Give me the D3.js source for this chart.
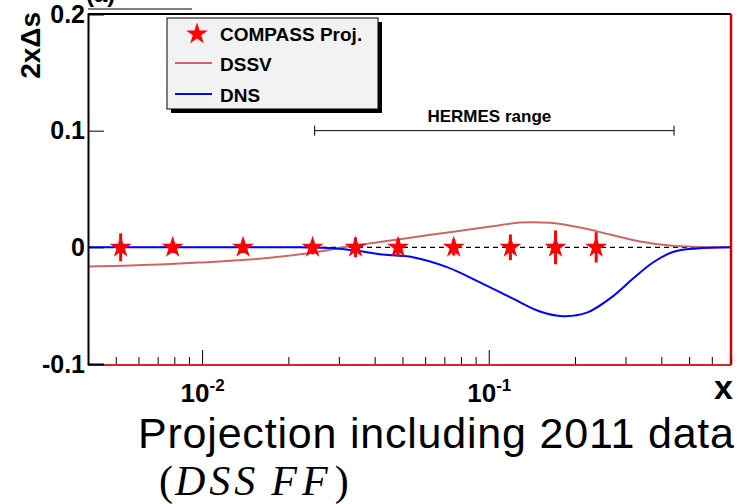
<!DOCTYPE html>
<html>
<head>
<meta charset="utf-8">
<script src="https://cdn.jsdelivr.net/npm/d3@7"></script>
<style>
  html, body { margin: 0; padding: 0; background: #fff; }
  svg { display: block; font-family: "Liberation Sans", Arial, Helvetica, sans-serif; }
</style>
</head>
<body>
<svg id="chart" width="740" height="504"></svg>
<script>
// COMPASS projected points (x, 2xΔs, stat. error)
const pointX   = [0.0052, 0.0079, 0.0139, 0.0243, 0.0343, 0.0483, 0.0755, 0.119, 0.171, 0.237];
const pointY   = [0, 0, 0, 0, 0, 0, 0, 0, 0, 0];
const pointErr = [0.012, 0.005, 0.005, 0.006, 0.0085, 0.0077, 0.007, 0.011, 0.0145, 0.013];

// DSSV parametrisation
const dssvX = [0.004, 0.0066, 0.0098, 0.0147, 0.022, 0.0279, 0.0328, 0.0417, 0.049, 0.0732, 0.1094, 0.1285, 0.163, 0.208, 0.265, 0.337, 0.429, 0.545, 0.7];
const dssvY = [-0.0165, -0.015, -0.013, -0.0105, -0.006, -0.002, 0.001, 0.0045, 0.007, 0.013, 0.019, 0.0212, 0.021, 0.017, 0.011, 0.005, 0.0015, 0.0003, 0];

// DNS parametrisation
const dnsX = [0.004, 0.0147, 0.022, 0.0279, 0.035, 0.0417, 0.0544, 0.0715, 0.0932, 0.1215, 0.151, 0.1815, 0.22, 0.271, 0.318, 0.374, 0.439, 0.532, 0.7];
const dnsY = [0, 0, 0, -0.0005, -0.003, -0.006, -0.0085, -0.017, -0.030, -0.044, -0.055, -0.059, -0.056, -0.042, -0.027, -0.013, -0.004, -0.001, 0];

const yTicks = [-0.1, 0, 0.1, 0.2];
const yTickLabels = ["-0.1", "0", "0.1", "0.2"];
const xMajor = [0.01, 0.1];
const xMinor = [0.004, 0.005, 0.006, 0.007, 0.008, 0.009, 0.02, 0.03, 0.04, 0.05, 0.06, 0.07, 0.08, 0.09, 0.2, 0.3, 0.4, 0.5, 0.6, 0.7];
const hermesRange = [0.0247, 0.443];

const legendItems = [
  { label: "COMPASS Proj.", kind: "star" },
  { label: "DSSV", kind: "dssv" },
  { label: "DNS", kind: "dns" }
];

const colors = { points: "#ff0000", dssv: "#cc6666", dns: "#0000ff" };

const svg = d3.select("#chart");
const L = 88, R = 731, T = 14, B = 364;

const x = d3.scaleLog().domain([0.004, 0.7]).range([L, R]);
const y = d3.scaleLinear().domain([-0.1, 0.2]).range([B, T]);

// pad label sitting above the frame
svg.append("text").attr("x", 86).attr("y", 2)
  .attr("font-size", 24).attr("font-weight", "bold").text("(a)");
svg.append("line").attr("x1", 88).attr("x2", 192).attr("y1", 9).attr("y2", 9)
  .attr("stroke", "#000").attr("stroke-width", 1);

const plot = svg.append("g");

// zero reference line
plot.append("line")
  .attr("x1", L).attr("x2", R).attr("y1", y(0)).attr("y2", y(0))
  .attr("stroke", "#000").attr("stroke-width", 1.2).attr("stroke-dasharray", "5,4");

// HERMES range bar
const hy = y(0.1);
plot.append("line").attr("x1", x(hermesRange[0])).attr("x2", x(hermesRange[1]))
  .attr("y1", hy).attr("y2", hy).attr("stroke", "#000").attr("stroke-width", 1);
hermesRange.forEach(v => {
  plot.append("line").attr("x1", x(v)).attr("x2", x(v))
    .attr("y1", hy - 5).attr("y2", hy + 5).attr("stroke", "#000").attr("stroke-width", 1);
});
plot.append("text").attr("x", (x(hermesRange[0]) + x(hermesRange[1])) / 2 - 5)
  .attr("y", 122).attr("text-anchor", "middle")
  .attr("font-size", 17).attr("font-weight", "bold").text("HERMES range");

// curves
const line = d3.line().x(d => x(d[0])).y(d => y(d[1])).curve(d3.curveCatmullRom.alpha(0.5));
plot.append("path").datum(dssvX.map((v, i) => [v, dssvY[i]]))
  .attr("d", line).attr("fill", "none").attr("stroke", colors.dssv).attr("stroke-width", 2);
plot.append("path").datum(dnsX.map((v, i) => [v, dnsY[i]]))
  .attr("d", line).attr("fill", "none").attr("stroke", colors.dns).attr("stroke-width", 2);

// points with error bars
const pts = pointX.map((v, i) => ({ x: v, y: pointY[i], e: pointErr[i] }));
plot.selectAll(".err").data(pts).join("line")
  .attr("x1", d => x(d.x)).attr("x2", d => x(d.x))
  .attr("y1", d => y(d.y - d.e)).attr("y2", d => y(d.y + d.e))
  .attr("stroke", colors.points).attr("stroke-width", 3);
const star = d3.symbol().type(d3.symbolStar).size(150);
plot.selectAll(".pt").data(pts).join("path")
  .attr("transform", d => `translate(${x(d.x)},${y(d.y)})`)
  .attr("d", star).attr("fill", colors.points);

// frame
svg.append("line").attr("x1", L).attr("x2", R).attr("y1", T).attr("y2", T)
  .attr("stroke", "#000").attr("stroke-width", 2);
svg.append("line").attr("x1", R).attr("x2", R).attr("y1", T).attr("y2", B + 1)
  .attr("stroke", "#cc0000").attr("stroke-width", 2.5);
svg.append("line").attr("x1", L).attr("x2", R).attr("y1", B + 1).attr("y2", B + 1)
  .attr("stroke", "#dd2222").attr("stroke-width", 2);

// y axis
const yAxis = d3.axisLeft(y).tickValues(yTicks).tickSize(-16).tickPadding(3)
  .tickFormat((d, i) => yTickLabels[i]);
const gy = svg.append("g").attr("transform", `translate(${L},0)`).call(yAxis);
gy.select(".domain").attr("stroke-width", 2);
gy.selectAll(".tick text").style("font-size", "25px").style("font-weight", "bold")
  .style("font-family", "Liberation Sans, Arial, sans-serif").attr("fill", "#000");
gy.selectAll(".tick line").attr("stroke-width", 1);

// x axis ticks
const gx = svg.append("g").attr("transform", `translate(0,${B})`);
gx.call(d3.axisBottom(x).tickValues(xMinor).tickSize(-7).tickFormat(""))
  .select(".domain").remove();
const gxm = svg.append("g").attr("transform", `translate(0,${B})`);
gxm.call(d3.axisBottom(x).tickValues(xMajor).tickSize(-14).tickPadding(10).tickFormat(""))
  .select(".domain").remove();
svg.selectAll(".tick line").attr("stroke", "#000");
gxm.selectAll(".tick").append("text")
  .attr("y", 38).attr("fill", "#000").attr("text-anchor", "middle")
  .style("font-weight", "bold").style("font-family", "Liberation Sans, Arial, sans-serif")
  .each(function (d) {
    const t = d3.select(this);
    t.append("tspan").style("font-size", "26px").text("10");
    t.append("tspan").style("font-size", "17px").attr("dy", -11).text(String(Math.round(Math.log10(d))));
  });

// axis titles
svg.append("text").attr("transform", "translate(40,12) rotate(-90)")
  .attr("text-anchor", "end").attr("font-size", 28).attr("font-weight", "bold").text("2xΔs");
svg.append("text").attr("x", 733).attr("y", 399).attr("text-anchor", "end")
  .attr("font-size", 34).attr("font-weight", "bold").text("x");

// legend
const lg = svg.append("g");
lg.append("rect").attr("x", 171).attr("y", 22).attr("width", 211).attr("height", 91).attr("fill", "#000");
lg.append("rect").attr("x", 167).attr("y", 18).attr("width", 211).attr("height", 91)
  .attr("fill", "#f2f2f2").attr("stroke", "#000").attr("stroke-width", 1);
const rowY = [34, 64, 95];
legendItems.forEach((it, i) => {
  const cy = rowY[i];
  if (it.kind === "star") {
    lg.append("path").attr("transform", `translate(197,${cy})`).attr("d", star).attr("fill", colors.points);
  } else {
    lg.append("line").attr("x1", 175).attr("x2", 212).attr("y1", cy - 1).attr("y2", cy - 1)
      .attr("stroke", colors[it.kind]).attr("stroke-width", 2);
  }
  lg.append("text").attr("x", 220).attr("y", cy + 7).attr("font-size", 19)
    .attr("font-weight", "bold").text(it.label);
});

// caption
svg.append("text").attr("x", 138).attr("y", 448).attr("font-size", 43)
  .attr("textLength", 596).attr("lengthAdjust", "spacing")
  .attr("fill", "#000").text("Projection including 2011 data");
const cap2 = svg.append("text").attr("x", 159).attr("y", 495)
  .style("font-size", "42px")
  .style("font-family", "Liberation Serif, Times New Roman, serif").attr("fill", "#000");
cap2.append("tspan").text("(");
cap2.append("tspan").style("font-style", "italic").style("letter-spacing", "4px").attr("dx", 2).text("DSS");
cap2.append("tspan").style("font-style", "italic").style("letter-spacing", "5px").attr("dx", 12).text("FF");
cap2.append("tspan").attr("dx", 2).text(")");
</script>
</body>
</html>
